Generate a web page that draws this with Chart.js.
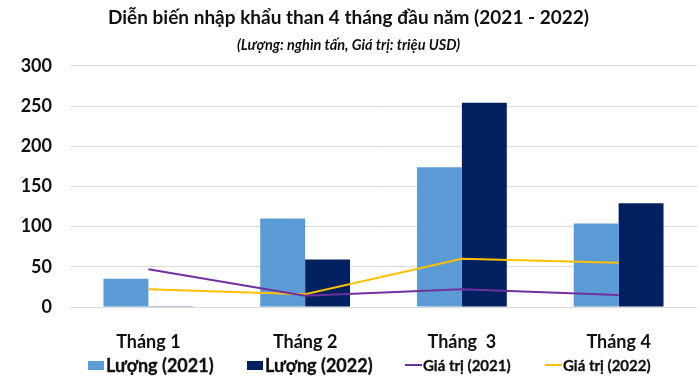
<!DOCTYPE html>
<html>
<head>
<meta charset="utf-8">
<script src="https://cdn.jsdelivr.net/npm/chart.js"></script>
<style>
  html, body { margin: 0; padding: 0; background: #fff; }
  #wrap { position: relative; width: 700px; height: 388px; }
  #legend { position: absolute; left: 0; top: 352px; width: 700px; height: 26px; font-family: Lato, sans-serif; font-weight: 700; color: #111; -webkit-text-stroke: 0.3px #111; }
  .item { position: absolute; top: 0; height: 26px; display: flex; align-items: center; white-space: nowrap; }
  .swatch { display: inline-block; width: 16px; height: 9px; margin-right: 2px; }
  .dash { display: inline-block; width: 17px; height: 2px; margin-right: 1px; }
</style>
</head>
<body>
<div id="wrap">
  <canvas id="chart" width="700" height="388"></canvas>
  <div id="legend"></div>
</div>
<script>
// Số liệu nhập khẩu than 4 tháng đầu năm
const months = ['Tháng 1', 'Tháng 2', 'Tháng  3', 'Tháng 4']
const volume2021 = [35, 110, 174, 104]
const volume2022 = [1, 59, 254, 129]
const value2021 = [47, 14, 22, 15]
const value2022 = [22, 16, 60, 55]
const yTicks = [0, 50, 100, 150, 200, 250, 300]

const colors = {
  v2021: '#5B9BD5',
  v2022: '#002060',
  g2021: '#7030A0',
  g2022: '#FFC000'
}

const font = 'Lato, sans-serif'

const chart = new Chart(document.getElementById('chart'), {
  type: 'bar',
  data: {
    labels: months,
    datasets: [
      {
        type: 'line',
        label: 'Giá trị (2021)',
        data: value2021,
        borderColor: colors.g2021,
        backgroundColor: colors.g2021,
        borderWidth: 2,
        pointRadius: 0,
        tension: 0,
        order: 0
      },
      {
        type: 'line',
        label: 'Giá trị (2022)',
        data: value2022,
        borderColor: colors.g2022,
        backgroundColor: colors.g2022,
        borderWidth: 2,
        pointRadius: 0,
        tension: 0,
        order: 0
      },
      {
        label: 'Lượng (2021)',
        data: volume2021,
        backgroundColor: colors.v2021,
        barPercentage: 1,
        categoryPercentage: 0.573,
        order: 1
      },
      {
        label: 'Lượng (2022)',
        data: volume2022,
        backgroundColor: colors.v2022,
        barPercentage: 1,
        categoryPercentage: 0.573,
        order: 1
      }
    ]
  },
  options: {
    responsive: false,
    animation: false,
    layout: { padding: { top: 0, left: 0, right: 3, bottom: 36 } },
    plugins: {
      legend: { display: false },
      tooltip: { enabled: false },
      title: {
        display: true,
        text: 'Diễn biến nhập khẩu than 4 tháng đầu năm (2021 - 2022)',
        color: '#111',
        font: { family: font, size: 19, weight: 'bold', lineHeight: 1.1 },
        padding: { top: 7, bottom: 4 }
      },
      subtitle: {
        display: true,
        text: '(Lượng: nghìn tấn, Giá trị: triệu USD)',
        color: '#111',
        font: { family: font, size: 14.5, weight: 'bold', style: 'italic', lineHeight: 1.1 },
        padding: { top: 5, bottom: 13 }
      }
    },
    scales: {
      x: {
        grid: { display: false },
        border: { display: false },
        ticks: {
          color: '#111',
          padding: 16,
          font: { family: font, size: 18, weight: 'bold' }
        },
        afterFit: s => { s.height = 45 }
      },
      y: {
        min: 0,
        max: 300,
        afterBuildTicks: s => { s.ticks = yTicks.map(v => ({ value: v })) },
        grid: { color: '#d9d9d9', lineWidth: 1, drawTicks: false },
        border: { display: false },
        ticks: {
          color: '#111',
          padding: 18,
          font: { family: font, size: 18, weight: 'bold' }
        },
        afterFit: s => { s.width = 70 }
      }
    }
  }
})

// Chú thích dựng từ các dataset
const legendOrder = [2, 3, 0, 1]
const legendLeft = [88, 247, 405, 545]
const legendEl = document.getElementById('legend')
legendOrder.forEach((idx, i) => {
  const ds = chart.data.datasets[idx]
  const item = document.createElement('div')
  item.className = 'item'
  item.style.left = legendLeft[i] + 'px'
  const mark = document.createElement('span')
  const isLine = ds.type === 'line'
  mark.className = isLine ? 'dash' : 'swatch'
  mark.style.background = isLine ? ds.borderColor : ds.backgroundColor
  const text = document.createElement('span')
  text.textContent = ds.label
  text.style.fontSize = isLine ? '15px' : '18px'
  item.appendChild(mark)
  item.appendChild(text)
  legendEl.appendChild(item)
})
</script>
</body>
</html>
